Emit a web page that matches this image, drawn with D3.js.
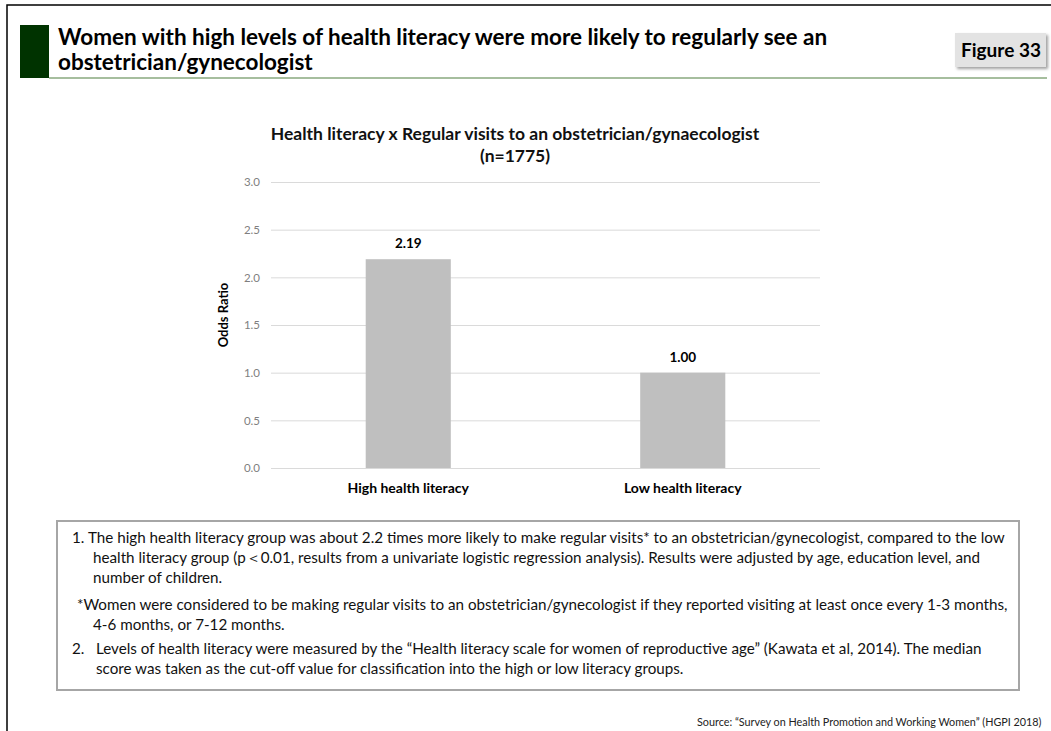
<!DOCTYPE html>
<html>
<head>
<meta charset="utf-8">
<script src="https://cdn.jsdelivr.net/npm/d3@7"></script>
<style>
  body { margin: 0; background: #fff; }
  text { font-family: Lato, "Open Sans", sans-serif; }
</style>
</head>
<body>
<div id="chart"></div>
<script>
(() => {

    // data
    const categories = ["High health literacy", "Low health literacy"];
    const oddsRatios = [2.19, 1.00];
    const yTicks = [0, 0.5, 1.0, 1.5, 2.0, 2.5, 3.0];

    const pageTitle = ["Women with high levels of health literacy were more likely to regularly see an",
        "obstetrician/gynecologist"];
    const chartTitle = ["Health literacy x Regular visits to an obstetrician/gynaecologist", "(n=1775)"];
    const notes = [
        { x: 72, t: "1." }, { x: 88, t: "The high health literacy group was about 2.2 times more likely to make regular visits* to an obstetrician/gynecologist, compared to the low" },
        { x: 93, t: "health literacy group (p\uFF1C0.01, results from a univariate logistic regression analysis). Results were adjusted by age, education level, and", dy: 1 },
        { x: 93, t: "number of children.", dy: 2 },
        { x: 77, t: "*Women were considered to be making regular visits to an obstetrician/gynecologist if they reported visiting at least once every 1-3 months,", dy: 3 },
        { x: 93, t: "4-6 months, or 7-12 months.", dy: 4 },
        { x: 72, t: "2.", dy: 5 }, { x: 96, t: "Levels of health literacy were measured by the \u201CHealth literacy scale for women of reproductive age\u201D (Kawata et al, 2014). The median", dy: 5 },
        { x: 96, t: "score was taken as the cut-off value for classification into the high or low literacy groups.", dy: 6 }
    ];
    const noteBaselines = [543, 563, 583, 610, 630, 654, 674];
    const sourceText = "Source: \u201CSurvey on Health Promotion and Working Women\u201D (HGPI 2018)";

    const W = 1051, H = 731;
    const svg = d3.select("#chart").append("svg")
        .attr("width", W).attr("height", H);

    // outer frame (right/bottom run off the page)
    svg.append("path").attr("d", "M7,740 L7,5 L1060,5")
        .attr("fill", "none").attr("stroke", "#000").attr("stroke-width", 1.5);

    // header
    svg.append("rect").attr("x", 20).attr("y", 25).attr("width", 29).attr("height", 53).attr("fill", "#003300");
    svg.append("line").attr("x1", 49).attr("x2", 1047).attr("y1", 78).attr("y2", 78)
        .attr("stroke", "#4f7f3f").attr("stroke-width", 1.2);
    svg.selectAll(".ptitle").data(pageTitle).enter().append("text")
        .attr("x", 58).attr("y", (d, i) => 45 + i * 25)
        .style("font-size", "22.5px").style("font-weight", "bold").attr("fill", "#000")
        .text(d => d);

    // Figure 33 badge
    const defs = svg.append("defs");
    const f = defs.append("filter").attr("id", "shadow").attr("x", "-20%").attr("y", "-20%").attr("width", "150%").attr("height", "160%");
    f.append("feDropShadow").attr("dx", 2).attr("dy", 2).attr("stdDeviation", 1.5).attr("flood-color", "#777").attr("flood-opacity", 0.7);
    svg.append("rect").attr("x", 955).attr("y", 33).attr("width", 91).attr("height", 34)
        .attr("fill", "#e3e3e3").attr("filter", "url(#shadow)");
    svg.append("text").attr("x", 1001).attr("y", 57).attr("text-anchor", "middle")
        .style("font-size", "19px").style("font-weight", "bold").text("Figure 33");

    // chart area
    const x = d3.scaleBand().domain(categories).range([271, 820])
        .paddingInner(0.69).paddingOuter(0.345);
    const y = d3.scaleLinear().domain([0, 3]).range([468, 182]);

    svg.selectAll(".ctitle").data(chartTitle).enter().append("text")
        .attr("x", 515).attr("y", (d, i) => 140 + i * 22).attr("text-anchor", "middle")
        .style("font-size", "17.5px").style("font-weight", "bold").attr("fill", "#111")
        .text(d => d);

    const yAxis = svg.append("g").attr("transform", "translate(271,0)")
        .call(d3.axisLeft(y).tickValues(yTicks).tickFormat(d3.format(".1f")).tickSize(-549).tickPadding(11));
    yAxis.select(".domain").remove();
    yAxis.selectAll(".tick line").attr("stroke", "#dadada").attr("stroke-width", 1);
    yAxis.selectAll(".tick text").attr("fill", "#7f7f7f").style("font-size", "11.5px");

    svg.append("text").attr("transform", "translate(228,315) rotate(-90)")
        .attr("text-anchor", "middle").style("font-size", "13px").style("font-weight", "bold")
        .text("Odds Ratio");

    svg.selectAll(".bar").data(oddsRatios).enter().append("rect")
        .attr("x", (d, i) => x(categories[i]))
        .attr("y", d => y(d))
        .attr("width", x.bandwidth())
        .attr("height", d => y(0) - y(d))
        .attr("fill", "#bfbfbf");

    svg.selectAll(".val").data(oddsRatios).enter().append("text")
        .attr("x", (d, i) => x(categories[i]) + x.bandwidth() / 2)
        .attr("y", d => y(d) - 11)
        .attr("text-anchor", "middle").style("font-size", "13.5px").style("font-weight", "bold")
        .text(d => d3.format(".2f")(d));

    svg.selectAll(".cat").data(categories).enter().append("text")
        .attr("x", d => x(d) + x.bandwidth() / 2).attr("y", 493)
        .attr("text-anchor", "middle").style("font-size", "14px").style("font-weight", "bold")
        .text(d => d);

    // notes box
    svg.append("rect").attr("x", 57).attr("y", 521).attr("width", 962).attr("height", 169)
        .attr("fill", "#fff").attr("stroke", "#a6a6a6").attr("stroke-width", 2);
    svg.selectAll(".note").data(notes).enter().append("text")
        .attr("x", d => d.x).attr("y", d => noteBaselines[d.dy || 0])
        .style("font-size", "15.2px").attr("fill", "#111")
        .text(d => d.t);

    svg.append("text").attr("x", 697).attr("y", 726)
        .style("font-size", "10.8px").attr("fill", "#222").text(sourceText);

})();
</script>
</body>
</html>
